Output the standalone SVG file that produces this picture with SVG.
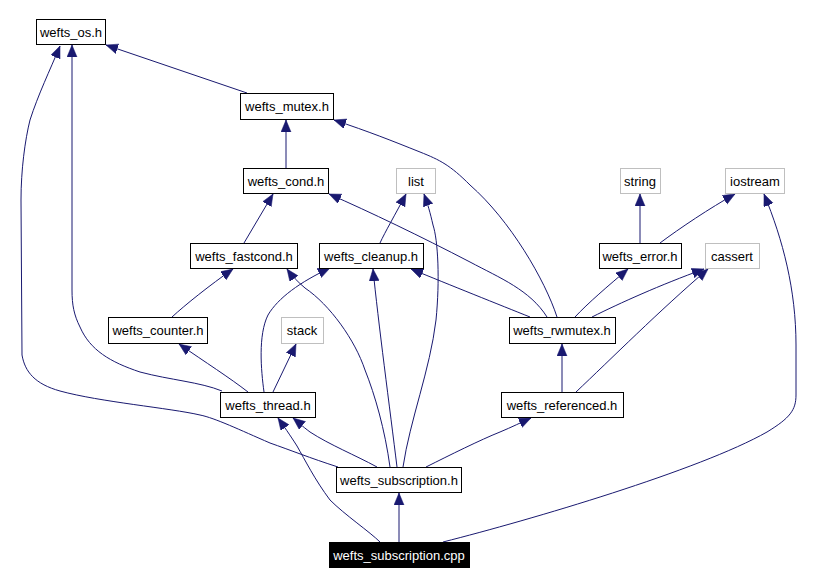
<svg xmlns="http://www.w3.org/2000/svg" width="816" height="584" viewBox="0 0 816 584">
<style>
.n rect{fill:#fff;stroke:#000;stroke-width:1}
.g rect{fill:#fff;stroke:#bfbfbf;stroke-width:1}
.r rect{fill:#000;stroke:#000}
text{font-family:"Liberation Sans",Arial,sans-serif;font-size:13px;text-anchor:middle;fill:#000}
.r text{fill:#fff}
.e path{fill:none;stroke:#191970;stroke-width:1;marker-end:url(#a)}
</style>
<defs>
<marker id="a" markerUnits="userSpaceOnUse" markerWidth="13" markerHeight="11" refX="12" refY="5" orient="auto">
<path d="M0,0 L12,5 L0,10 z" fill="#191970" stroke="#191970" stroke-width="0.5"/>
</marker>
</defs>
<rect width="816" height="584" fill="#fff"/>
<g class="e" id="edges">
<path d="M247,93 L106,45"/>
<path d="M286,168 L286,120"/>
<path d="M244,243 L273,194"/>
<path d="M380,243 C385,232 395,215 406,194"/>
<path d="M547,317 C530,290 500,278 470,262 C420,236 370,212 329,194"/>
<path d="M557,317 C545,280 510,220 470,185 C450,165 440,160 420,152 C390,140 370,132 334,120"/>
<path d="M530,317 C500,305 450,285 411,269"/>
<path d="M575,317 C588,303 608,286 628,269"/>
<path d="M592,317 C620,303 660,285 704,269"/>
<path d="M640,243 L640,194"/>
<path d="M660,243 C680,228 710,208 735,194"/>
<path d="M172,317 C185,305 210,285 233,269"/>
<path d="M248,392 C230,378 205,362 179,344"/>
<path d="M273,392 L296,344"/>
<path d="M222,391 C200,382 170,380 140,372 C110,362 90,350 80,327 C74,315 72,305 72,290 L72,45"/>
<path d="M264,392 C261,370 258,335 268,315 C278,298 300,282 330,268"/>
<path d="M390,467 C385,430 375,395 365,370 C355,340 330,305 305,288 C298,282 292,276 287,269"/>
<path d="M397,467 C390,410 378,320 373,269"/>
<path d="M403,467 C410,420 430,370 436,320 C440,280 438,240 433,225 C430,212 428,205 424,194"/>
<path d="M377,467 C355,455 330,445 310,432 C302,426 298,422 293,418"/>
<path d="M426,467 C450,455 480,440 500,432 C512,427 522,422 531,418"/>
<path d="M399,542 L399,493"/>
<path d="M380,542 C370,532 345,515 330,500 C315,480 305,460 297,446 C290,435 283,425 278,418"/>
<path d="M443,542 C530,520 700,470 767,432 C790,418 796,410 796,395 L796,345 C796,290 783,240 764,194"/>
<path d="M562,392 L562,344"/>
<path d="M576,392 C610,360 660,310 708,269"/>
<path d="M338,467 C310,458 290,450 270,443 C240,430 215,418 200,415 C170,408 100,402 60,391 C35,384 25,372 22,355 L21,200 C21,170 25,140 30,120 C38,95 50,70 60,46"/>
</g>
<g id="os" class="n"><rect x="36.5" y="19.5" width="69" height="25"/><text x="71" y="37">wefts_os.h</text></g>
<g id="mutex" class="n"><rect x="240.5" y="93.5" width="93" height="26"/><text x="287" y="111">wefts_mutex.h</text></g>
<g id="cond" class="n"><rect x="243.5" y="168.5" width="85" height="25"/><text x="286" y="186">wefts_cond.h</text></g>
<g id="list" class="g"><rect x="396.5" y="168.5" width="39" height="25"/><text x="416" y="186">list</text></g>
<g id="string" class="g"><rect x="620.5" y="168.5" width="40" height="25"/><text x="640" y="186">string</text></g>
<g id="iostream" class="g"><rect x="725.5" y="168.5" width="59" height="25"/><text x="755" y="186">iostream</text></g>
<g id="fastcond" class="n"><rect x="190.5" y="243.5" width="107" height="25"/><text x="244" y="261">wefts_fastcond.h</text></g>
<g id="cleanup" class="n"><rect x="319.5" y="243.5" width="104" height="25"/><text x="371" y="261">wefts_cleanup.h</text></g>
<g id="error" class="n"><rect x="599.5" y="243.5" width="82" height="25"/><text x="640" y="261">wefts_error.h</text></g>
<g id="cassert" class="g"><rect x="705.5" y="243.5" width="54" height="25"/><text x="732" y="261">cassert</text></g>
<g id="counter" class="n"><rect x="108.5" y="317.5" width="99" height="26"/><text x="158" y="335">wefts_counter.h</text></g>
<g id="stack" class="g"><rect x="281.5" y="317.5" width="42" height="26"/><text x="302" y="335">stack</text></g>
<g id="rwmutex" class="n"><rect x="509.5" y="317.5" width="106" height="26"/><text x="562" y="335">wefts_rwmutex.h</text></g>
<g id="thread" class="n"><rect x="220.5" y="392.5" width="95" height="25"/><text x="268" y="410">wefts_thread.h</text></g>
<g id="referenced" class="n"><rect x="501.5" y="392.5" width="122" height="25"/><text x="562" y="410">wefts_referenced.h</text></g>
<g id="subscription_h" class="n"><rect x="336.5" y="467.5" width="125" height="25"/><text x="399" y="485">wefts_subscription.h</text></g>
<g id="subscription_cpp" class="r"><rect x="329.5" y="542.5" width="140" height="25"/><text x="399" y="560">wefts_subscription.cpp</text></g>
</svg>
